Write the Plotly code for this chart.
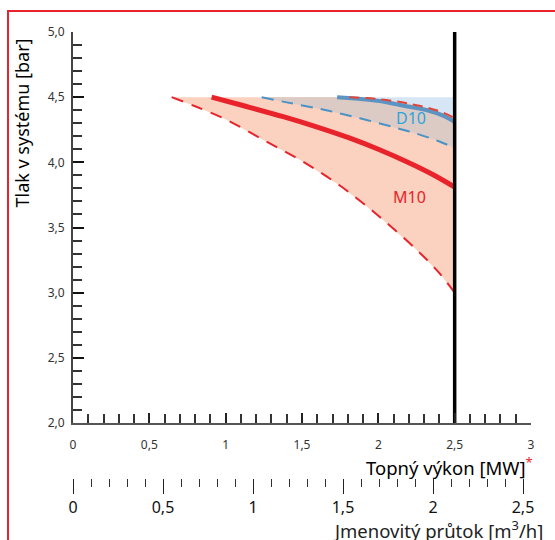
import plotly.graph_objects as go

# ---------------- data ----------------
power_ticks = [0, 0.5, 1, 1.5, 2, 2.5, 3]
flow_ticks = [0, 0.5, 1, 1.5, 2, 2.5]
pressure_ticks = [2.0, 2.5, 3.0, 3.5, 4.0, 4.5, 5.0]

max_pressure = 4.5
max_power = 2.5

# M10 lower limit (red dashed)
m10_low_x = [0.646, 0.8, 1.0, 1.25, 1.5, 1.75, 2.0, 2.25, 2.4, 2.5]
m10_low_y = [4.5, 4.43, 4.33, 4.17, 4.01, 3.82, 3.59, 3.33, 3.15, 3.0]
# M10 nominal (red solid)
m10_x = [0.908, 1.1, 1.377, 1.6, 1.814, 2.0, 2.207, 2.35, 2.5]
m10_y = [4.5, 4.44, 4.35, 4.27, 4.185, 4.10, 3.993, 3.91, 3.81]
# M10 upper limit (red dashed, top)
m10_up_x = [1.81, 2.01, 2.2, 2.38, 2.48, 2.5]
m10_up_y = [4.5, 4.484, 4.45, 4.40, 4.35, 4.33]
# D10 lower limit (blue dashed)
d10_low_x = [1.236, 1.4, 1.596, 1.75, 1.923, 2.1, 2.25, 2.4, 2.5]
d10_low_y = [4.5, 4.46, 4.415, 4.375, 4.325, 4.27, 4.22, 4.16, 4.11]
# D10 nominal (blue solid)
d10_x = [1.73, 2.01, 2.14, 2.32, 2.42, 2.5]
d10_y = [4.5, 4.47, 4.44, 4.40, 4.36, 4.31]

# ---------------- colours ----------------
RED = "#e8232b"
RED_TOP = "#e0453a"
BLUE_D = "#4a93c6"
BLUE_S = "#5b94c2"
BLUE_TXT = "#2ba6df"
SALMON = "#fbd1bf"
LBLUE = "#d6e6f5"
OVERLAP = "#dccac5"
FONT = "Noto Sans"

fig = go.Figure()

# D10 region (light blue)
fig.add_trace(go.Scatter(
    x=d10_low_x + [max_power, d10_low_x[0]],
    y=d10_low_y + [max_pressure, max_pressure],
    fill="toself", fillcolor=LBLUE, mode="none", hoverinfo="skip"))
# M10 region (salmon)
fig.add_trace(go.Scatter(
    x=m10_low_x + m10_up_x[::-1] + [m10_low_x[0]],
    y=m10_low_y + m10_up_y[::-1] + [max_pressure],
    fill="toself", fillcolor=SALMON, mode="none", hoverinfo="skip"))
# overlap region
fig.add_trace(go.Scatter(
    x=d10_low_x + m10_up_x[::-1] + [d10_low_x[0]],
    y=d10_low_y + m10_up_y[::-1] + [max_pressure],
    fill="toself", fillcolor=OVERLAP, mode="none", hoverinfo="skip"))

# lines
fig.add_trace(go.Scatter(x=m10_low_x, y=m10_low_y, mode="lines",
                         line=dict(color=RED, width=2, dash="12px,9px", shape="spline")))
fig.add_trace(go.Scatter(x=m10_x, y=m10_y, mode="lines",
                         line=dict(color=RED, width=5, shape="spline")))
fig.add_trace(go.Scatter(x=d10_low_x, y=d10_low_y, mode="lines",
                         line=dict(color=BLUE_D, width=2, dash="12px,8px", shape="spline")))
fig.add_trace(go.Scatter(x=d10_x, y=d10_y, mode="lines",
                         line=dict(color=BLUE_S, width=4, shape="spline")))
fig.add_trace(go.Scatter(x=m10_up_x, y=m10_up_y, mode="lines",
                         line=dict(color=RED_TOP, width=2, dash="10px,6px", shape="spline")))
# max power line
fig.add_trace(go.Scatter(x=[max_power, max_power], y=[pressure_ticks[0], pressure_ticks[-1]],
                         mode="lines", line=dict(color="black", width=3.5)))
# dummy trace for flow axis
fig.add_trace(go.Scatter(x=[flow_ticks[0], flow_ticks[-1]], y=[None, None], xaxis="x2",
                         mode="markers", hoverinfo="skip"))

# labels
fig.add_annotation(x=2.213, y=4.34, text="D10", showarrow=False,
                   font=dict(family=FONT, size=16, color=BLUE_TXT))
fig.add_annotation(x=2.207, y=3.734, text="M10", showarrow=False,
                   font=dict(family=FONT, size=16, color=RED))

# geometry (pixels -> paper)
L, R, T, B = 73, 24, 32, 62
W, H = 555, 540
PW = W - L - R
PH = H - T - B
def px(x):
    return (x - L) / PW
def py(y):
    return (H - B - y) / PH

y_dom0 = py(423)

# axis titles
fig.add_annotation(xref="paper", yref="paper", x=px(21.5), y=py(123), text="Tlak v systému [bar]",
                   textangle=-90, showarrow=False, xanchor="center", yanchor="middle",
                   font=dict(family=FONT, size=18, color="black"))
fig.add_annotation(xref="paper", yref="paper", x=px(535), y=py(466),
                   text="Topný výkon [MW]<sup><span style='color:#e8232b'>*</span></sup>",
                   showarrow=False, xanchor="right", yanchor="middle",
                   font=dict(family=FONT, size=18.5, color="black"))
fig.add_annotation(xref="paper", yref="paper", x=px(545), y=py(529),
                   text="Jmenovitý průtok [m<sup>3</sup>/h]",
                   showarrow=False, xanchor="right", yanchor="middle",
                   font=dict(family=FONT, size=18.5, color="#222"))

# red frame
fig.add_shape(type="rect", xref="paper", yref="paper",
              x0=px(8), x1=px(562), y0=py(548), y1=py(11),
              line=dict(color="#e8232b", width=2), layer="above")

fig.update_layout(
    width=W, height=H,
    margin=dict(l=L, r=R, t=T, b=B),
    paper_bgcolor="white", plot_bgcolor="white",
    showlegend=False,
    separators=", ",
    font=dict(family=FONT, color="#333"),
    xaxis=dict(range=[0, 3], domain=[0, 1], anchor="y",
               tickvals=power_ticks, ticks="inside", ticklen=10, tickwidth=2, tickcolor="#222",
               minor=dict(dtick=0.1, ticks="inside", ticklen=9, tickwidth=1.5, tickcolor="#333"),
               showline=True, linecolor="#555", linewidth=2,
               showgrid=False, zeroline=False,
               tickfont=dict(size=12, color="#333"), ticklabelstandoff=10),
    yaxis=dict(range=[2, 5], domain=[y_dom0, 1], anchor="x",
               tickvals=pressure_ticks, tickformat=".1f",
               ticks="inside", ticklen=11, tickwidth=2, tickcolor="#111",
               minor=dict(dtick=0.1, ticks="inside", ticklen=9, tickwidth=1.5, tickcolor="#333"),
               showline=True, linecolor="#444", linewidth=2,
               showgrid=False, zeroline=False,
               tickfont=dict(size=12, color="#333"), ticklabelstandoff=4),
    xaxis2=dict(range=[0, 458 / 180], overlaying="x", anchor="free", position=0, side="bottom",
                tickvals=flow_ticks, ticks="outside", ticklen=15, tickwidth=1, tickcolor="#222",
                minor=dict(dtick=0.1, ticks="outside", ticklen=8, tickwidth=1, tickcolor="#333"),
                showline=False, showgrid=False, zeroline=False,
                tickfont=dict(size=16, color="#111"), ticklabelstandoff=0),
)

fig.write_html("out.html", config={"displayModeBar": False},
               post_script="document.body.style.margin='0';")
